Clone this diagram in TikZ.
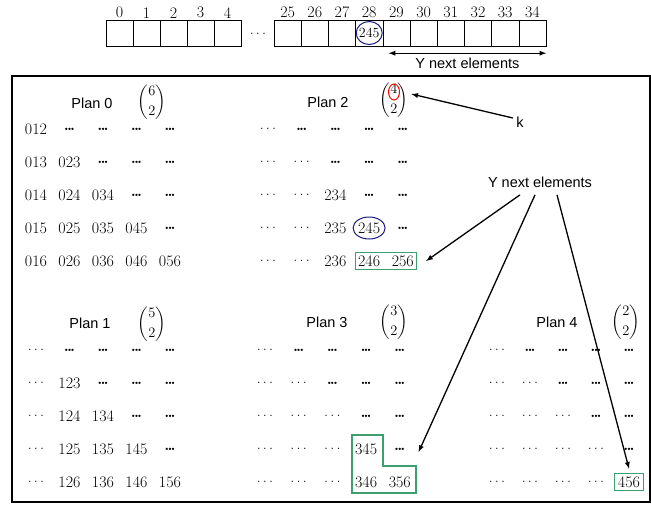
\documentclass[tikz,border=0pt]{standalone}
\usepackage{amsmath}
\usepackage{fontspec}
\newfontfamily\sansfont{Liberation Sans}
\usetikzlibrary{fit,calc}

\definecolor{boxgreen}{RGB}{60,160,110}
\definecolor{ringblue}{RGB}{25,25,130}
\newcommand{\tightdots}{\textbf{.\kern-0.12em.\kern-0.12em.}}
\newcommand{\widedots}{.\kern0.14em.\kern0.14em.}

\begin{document}
\begin{tikzpicture}[
  x=1pt, y=-1pt, >=latex,
  font=\fontsize{16}{18}\selectfont,
  cell/.style={draw, minimum width=27.2pt, minimum height=26pt, inner sep=0pt},
  idx/.style={inner sep=1.5pt},
  entry/.style={inner sep=1pt},
  binomial/.style={font=\fontsize{14}{16}\selectfont, inner sep=0pt},
  plan/.style={font=\sansfont\fontsize{14.5}{16}\selectfont},
  gbox/.style={draw=boxgreen, line width=1.2pt},
  ring/.style={draw=ringblue, line width=1pt},
  pointer/.style={->, line width=1.3pt},
]
\useasboundingbox (0,0) rectangle (651,504);

% the array of plans
\foreach \i in {0,...,4}
  \node [cell, label={[idx]above:\i}] (c\i) at ({119.5+27*\i},33) {};
\node (gap) at (258,34) {\widedots};
\foreach \i in {25,...,34}
  \node [cell, label={[idx]above:\i}] (c\i) at ({287.6+27.2*(\i-25)},33) {};
\node [font=\fontsize{14}{16}\selectfont] (v28) at (c28) {245};
\draw [ring] (c28) ellipse [x radius=13pt, y radius=11.5pt];
\draw [<->, line width=1.3pt] ([xshift=6pt,yshift=-7pt]c29.south west) -- ([yshift=-7pt]c34.south east)
  node [midway, below=1pt, plan] (ynext) {Y next elements};

\draw [line width=1.6pt] (12,76) rectangle (650,502);

% plan 0
\node [plan] (plan0) at (92,103) {Plan 0};
\node [binomial] (b0) at (152,102) {$\displaystyle\binom{6}{2}$};
\foreach \row [count=\r] in {{012,\tightdots,\tightdots,\tightdots,\tightdots},
    {013,023,\tightdots,\tightdots,\tightdots},{014,024,034,\tightdots,\tightdots},
    {015,025,035,045,\tightdots},{016,026,036,046,056}}
  \foreach \t [count=\c] in \row
    \node [entry] (p0-\r-\c) at ({36+33.5*(\c-1)},{129+33*(\r-1)}) {\t};

% plan 2
\node [plan] (plan2) at (328,102) {Plan 2};
\node [binomial] (b2) at (394,100) {$\displaystyle\binom{4}{2}$};
\foreach \row [count=\r] in {{\widedots,\tightdots,\tightdots,\tightdots,\tightdots},
    {\widedots,\widedots,\tightdots,\tightdots,\tightdots},{\widedots,\widedots,234,\tightdots,\tightdots},
    {\widedots,\widedots,235,245,\tightdots},{\widedots,\widedots,236,246,256}}
  \foreach \t [count=\c] in \row
    \node [entry] (p2-\r-\c) at ({268+33.7*(\c-1)},{129+33*(\r-1)}) {\t};
\draw [red, line width=1pt] ([yshift=8pt]b2.center) ellipse [x radius=5.5pt, y radius=8pt];
\draw [ring] (p2-4-4) ellipse [x radius=16pt, y radius=11pt];
\node [gbox, fit=(p2-5-4)(p2-5-5), inner sep=1.5pt] (g2) {};

% plan 1
\node [plan] (plan1) at (90,323) {Plan 1};
\node [binomial] (b1) at (152,324) {$\displaystyle\binom{5}{2}$};
\foreach \row [count=\r] in {{\widedots,\tightdots,\tightdots,\tightdots,\tightdots},
    {\widedots,123,\tightdots,\tightdots,\tightdots},{\widedots,124,134,\tightdots,\tightdots},
    {\widedots,125,135,145,\tightdots},{\widedots,126,136,146,156}}
  \foreach \t [count=\c] in \row
    \node [entry] (p1-\r-\c) at ({36+33.5*(\c-1)},{350+33*(\r-1)}) {\t};

% plan 3
\node [plan] (plan3) at (327,322) {Plan 3};
\node [binomial] (b3) at (394,322) {$\displaystyle\binom{3}{2}$};
\foreach \row [count=\r] in {{\widedots,\tightdots,\tightdots,\tightdots,\tightdots},
    {\widedots,\widedots,\tightdots,\tightdots,\tightdots},{\widedots,\widedots,\widedots,\tightdots,\tightdots},
    {\widedots,\widedots,\widedots,345,\tightdots},{\widedots,\widedots,\widedots,346,356}}
  \foreach \t [count=\c] in \row
    \node [entry] (p3-\r-\c) at ({265+33.7*(\c-1)},{350+33*(\r-1)}) {\t};
\draw [gbox] (352,435) -- (383,435) -- (383,466) -- (416,466) -- (416,493) -- (352,493) -- cycle;

% plan 4
\node [plan] (plan4) at (557,322) {Plan 4};
\node [binomial] (b4) at (626,322) {$\displaystyle\binom{2}{2}$};
\foreach \row [count=\r] in {{\widedots,\tightdots,\tightdots,\tightdots,\tightdots},
    {\widedots,\widedots,\tightdots,\tightdots,\tightdots},{\widedots,\widedots,\widedots,\tightdots,\tightdots},
    {\widedots,\widedots,\widedots,\widedots,\tightdots},{\widedots,\widedots,\widedots,\widedots,456}}
  \foreach \t [count=\c] in \row
    \node [entry] (p4-\r-\c) at ({497+33*(\c-1)},{350+33*(\r-1)}) {\t};
\node [gbox, fit=(p4-5-5), inner sep=2pt] (g4) {};

% pointers
\node [plan] (k) at (520,122) {k};
\draw [pointer] ([yshift=4pt]k.west) -- ([xshift=3pt,yshift=6pt]b2.east);

\node [plan] (ynext2) at (540,182) {Y next elements};
\coordinate (t2) at ([xshift=9pt]g2.east);
\coordinate (t3) at ([xshift=12pt,yshift=-3pt]p3-4-5.east);
\coordinate (t4) at ([yshift=4pt]g4.north);
\draw [pointer] ([xshift=-20pt,yshift=-4pt]ynext2.south) -- (t2);
\draw [pointer] ([xshift=-5pt,yshift=-4pt]ynext2.south) -- (t3);
\draw [pointer] ([xshift=17pt,yshift=-4pt]ynext2.south) -- (t4);

\end{tikzpicture}
\end{document}
